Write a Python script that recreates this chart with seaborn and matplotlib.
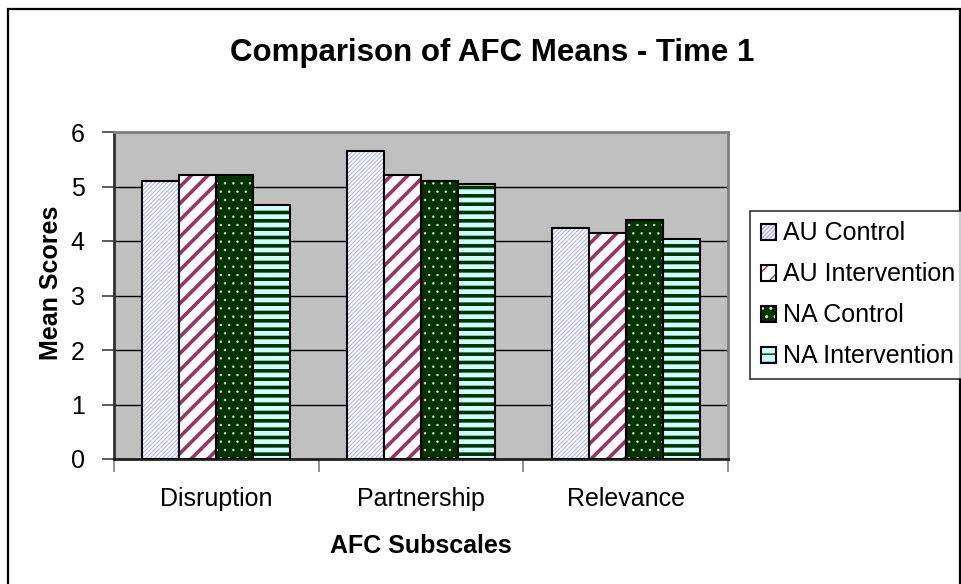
import matplotlib
matplotlib.use("Agg")
import matplotlib.pyplot as plt
import matplotlib.colors as mcolors
from matplotlib.patches import Rectangle
import seaborn as sns
import pandas as pd

# AFC subscale means at time 1
subscales = ["Disruption", "Partnership", "Relevance"]
groups = ["AU Control", "AU Intervention", "NA Control", "NA Intervention"]
au_control = [5.11, 5.66, 4.23]
au_intervention = [5.22, 5.22, 4.15]
na_control = [5.22, 5.11, 4.38]
na_intervention = [4.66, 5.04, 4.04]
y_ticks = [0, 1, 2, 3, 4, 5, 6]

# fill colour, hatch pattern, hatch colour, hatch line width for each group
styles = {
    "AU Control": ("#FFFFFF", "////////", "#A8A8FF", 0.7),
    "AU Intervention": ("#FFFFFF", "//", "#993366", 2.6),
    "NA Control": ("#003300", "..", "#E6E6A0", 0.5),
    "NA Intervention": ("#CCFFFF", "--", "#003300", 2.6),
}

rows = []
for g, vals in zip(groups, [au_control, au_intervention, na_control, na_intervention]):
    for s, v in zip(subscales, vals):
        rows.append({"Subscale": s, "Group": g, "Mean": v})
df = pd.DataFrame(rows)

sns.set_theme(style="white")
plt.rcParams["font.family"] = ["Liberation Sans", "DejaVu Sans"]
plt.rcParams["text.color"] = "black"
plt.rcParams["axes.labelcolor"] = "black"

fig = plt.figure(figsize=(9.61, 5.84), dpi=100)
ax = fig.add_axes([114 / 961, 1 - 459 / 584, 614 / 961, 327 / 584])
ax.set_facecolor("#C0C0C0")

palette = {g: styles[g][0] for g in groups}
sns.barplot(data=df, x="Subscale", y="Mean", hue="Group", order=subscales,
            hue_order=groups, palette=palette, width=0.723, gap=0,
            edgecolor="black", linewidth=1.5, saturation=1, legend=False,
            ax=ax, zorder=3)

for g, cont in zip(groups, ax.containers):
    face, hatch, hcol, hlw = styles[g]
    for p in cont.patches:
        p.set_hatch(hatch)
        p._hatch_color = mcolors.to_rgba(hcol)
        if hasattr(p, "set_hatch_linewidth"):
            p.set_hatch_linewidth(hlw)

ax.set_ylim(0, 6)
ax.set_yticks(y_ticks)
ax.set_xlim(-0.5, 2.5)
ax.yaxis.grid(True, color="black", linewidth=1.0, zorder=0)
ax.set_axisbelow(True)

# category boundary ticks on the x axis
ax.set_xticks([-0.5, 0.5, 1.5, 2.5], minor=False)
ax.set_xticklabels([])
ax.set_xticks([0, 1, 2], minor=True)
ax.set_xticklabels(subscales, minor=True)
ax.tick_params(axis="x", which="major", direction="out", length=9, width=1.2,
               color="#808080", bottom=True)
ax.tick_params(axis="x", which="minor", length=0, pad=20, labelsize=18,
               labelcolor="black")
ax.tick_params(axis="y", direction="out", length=9, width=1.2, color="#404040",
               pad=12, labelsize=18, left=True, labelcolor="black")

for side in ["top", "right"]:
    ax.spines[side].set_visible(True)
    ax.spines[side].set_color("#808080")
    ax.spines[side].set_linewidth(2)
ax.spines["left"].set_color("#303030")
ax.spines["left"].set_linewidth(2)
ax.spines["bottom"].set_color("#202020")
ax.spines["bottom"].set_linewidth(2)

ax.set_xlabel("AFC Subscales", fontsize=18, fontweight="bold")
ax.set_ylabel("Mean Scores", fontsize=18, fontweight="bold")
ax.yaxis.set_label_coords(-0.083, 0.54)
ax.xaxis.set_label_coords(0.5, -0.228)

fig.text(492 / 961, 1 - 53 / 584, "Comparison of AFC Means - Time 1",
         ha="center", va="center", fontsize=22.5, fontweight="bold")

handles = [cont.patches[0] for cont in ax.containers]
leg = fig.legend(handles, groups, loc="upper left",
                 bbox_to_anchor=(750 / 961, 1 - 211 / 584), fontsize=18,
                 frameon=True, fancybox=False, borderaxespad=0,
                 handlelength=0.6, handleheight=0.6, handletextpad=0.3,
                 borderpad=0.42, labelspacing=0.68)
leg.get_frame().set_edgecolor("black")
leg.get_frame().set_linewidth(1.2)
leg.get_frame().set_facecolor("white")

# chart border
fig.patches.append(Rectangle((7.5 / 961, -0.05), 952 / 961, 1.05 - 8.5 / 584,
                             transform=fig.transFigure, fill=False,
                             edgecolor="black", linewidth=1.6))

fig.savefig("out.png", dpi=100)
